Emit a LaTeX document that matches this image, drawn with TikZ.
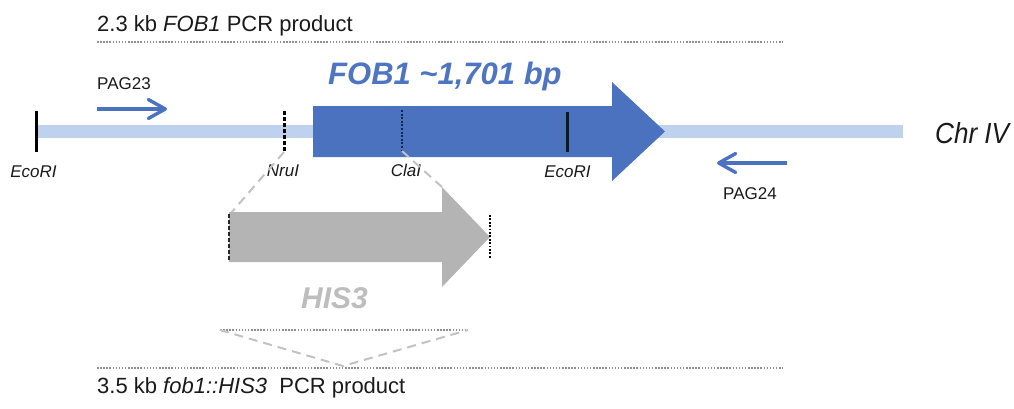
\documentclass[tikz,border=0pt]{standalone}
\usepackage{fontspec}
\usepackage{graphicx}
\setmainfont{Liberation Sans}
\usetikzlibrary{arrows.meta}
\definecolor{fobblue}{HTML}{4A72BF}
\definecolor{lblblue}{HTML}{4D75C1}
\definecolor{chrblue}{HTML}{BED1EE}
\definecolor{hisgray}{HTML}{B4B4B4}
\definecolor{hislabel}{HTML}{BDBDBD}
\definecolor{txt}{HTML}{1A1A1A}
\definecolor{dotgray}{HTML}{8E8E8E}
\definecolor{linkgray}{HTML}{C2C2C2}
\definecolor{navy}{HTML}{14244A}
\newcommand{\fs}[1]{\fontsize{#1}{#1}\selectfont}
\begin{document}
\begin{tikzpicture}[x=1pt,y=-1pt,
  lbl/.style={inner sep=0pt,text=txt},
  site/.style={lbl,anchor=base,font=\fs{17}\itshape},
  dotline/.style={draw=dotgray,line width=1.6pt,dash pattern=on 1.5pt off 1.6pt},
  linkline/.style={draw=linkgray,line width=2pt,dash pattern=on 9pt off 6pt},
  primer/.style={draw=fobblue,line width=3.4pt,-{Straight Barb[length=17pt,width=19pt,line cap=round,line join=round]}},
  solidtick/.style={draw=black,line width=3pt},
  dashtick/.style={draw=black,line width=3pt,dash pattern=on 4pt off 2pt},
  dottick/.style={draw=navy,line width=2.6pt,dash pattern=on 2pt off 1.6pt},
]
\useasboundingbox (0,0) rectangle (1014,408);

% titles
\node[lbl,anchor=base west,font=\fs{22}] (top) at (97,31) {2.3 kb \textit{FOB1} PCR product};
\coordinate (topL) at (97,42); \coordinate (topR) at (783,42);
\draw[dotline] (topL) -- (topR);

% chromosome
\coordinate (chrL) at (37,131.5); \coordinate (chrR) at (903,131.5);
\draw[chrblue,line width=13pt] (chrL) -- (chrR);
\node[lbl,anchor=base west,font=\fs{29}\itshape] (chr) at (935,143) {\scalebox{0.9}[1]{Chr IV}};

% FOB1 arrow
\fill[fobblue] (313,106) -- (612,106) -- (612,82) -- (665,131.5) -- (612,181) -- (612,157) -- (313,157) -- cycle;
\node[lbl,anchor=base west,font=\fs{31}\bfseries\itshape,text=lblblue] (fob) at (328,84) {FOB1 \textasciitilde 1,701 bp};

% sites
\coordinate (e1t) at (36,111); \coordinate (e1b) at (36,152);
\draw[solidtick] (e1t) -- (e1b);
\node[site] (eco1) at (33.5,177) {EcoRI};
\coordinate (nrt) at (284,111); \coordinate (nrb) at (284,152);
\draw[dashtick] (nrt) -- (nrb);
\node[site] (nru) at (283,176) {NruI};
\coordinate (clt) at (402,110); \coordinate (clb) at (402,151);
\draw[dottick] (clt) -- (clb);
\node[site] (cla) at (406,176) {ClaI};
\coordinate (e2t) at (567,112); \coordinate (e2b) at (567,152);
\draw[solidtick,draw=navy!60!black] (e2t) -- (e2b);
\node[site] (eco2) at (567.5,177) {EcoRI};

% primers
\coordinate (p23s) at (97,109); \coordinate (p23e) at (167,109);
\draw[primer] (p23s) -- (p23e);
\node[lbl,anchor=base west,font=\fs{17}] (pag23) at (97,89) {PAG23};
\coordinate (p24s) at (787,163); \coordinate (p24e) at (717,163);
\draw[primer] (p24s) -- (p24e);
\node[lbl,anchor=base,font=\fs{17}] (pag24) at (750,199) {PAG24};

% links to HIS3
\coordinate (hisTL) at (231,213); \coordinate (hisHead) at (442,187);
\draw[linkline] (nrb) -- (hisTL);
\draw[linkline] (clb) -- (hisHead);

% HIS3 arrow
\fill[hisgray] (229,212) -- (442,212) -- (442,187) -- (490,237) -- (442,287) -- (442,262) -- (229,262) -- cycle;
\coordinate (hlt) at (229,214); \coordinate (hlb) at (229,261);
\draw[draw=black!85,line width=2.6pt,dash pattern=on 4pt off 2pt] (hlt) -- (hlb);
\coordinate (hrt) at (490,215); \coordinate (hrb) at (490,258);
\draw[draw=black,line width=2.4pt,dash pattern=on 1.8pt off 1.6pt] (hrt) -- (hrb);
\node[lbl,anchor=base west,font=\fs{30}\bfseries\itshape,text=hislabel] (his) at (301,308) {HIS3};

% bottom
\coordinate (sL) at (220,330); \coordinate (sR) at (468,330); \coordinate (vB) at (343,366);
\draw[dotline] (sL) -- (sR);
\draw[linkline] (sL) -- (vB) -- (sR);
\coordinate (botL) at (97,368); \coordinate (botR) at (783,368);
\draw[dotline] (botL) -- (botR);
\node[lbl,anchor=base west,font=\fs{22}] (bot) at (97,393) {3.5 kb \textit{fob1::HIS3}\ \ PCR product};
\end{tikzpicture}
\end{document}
